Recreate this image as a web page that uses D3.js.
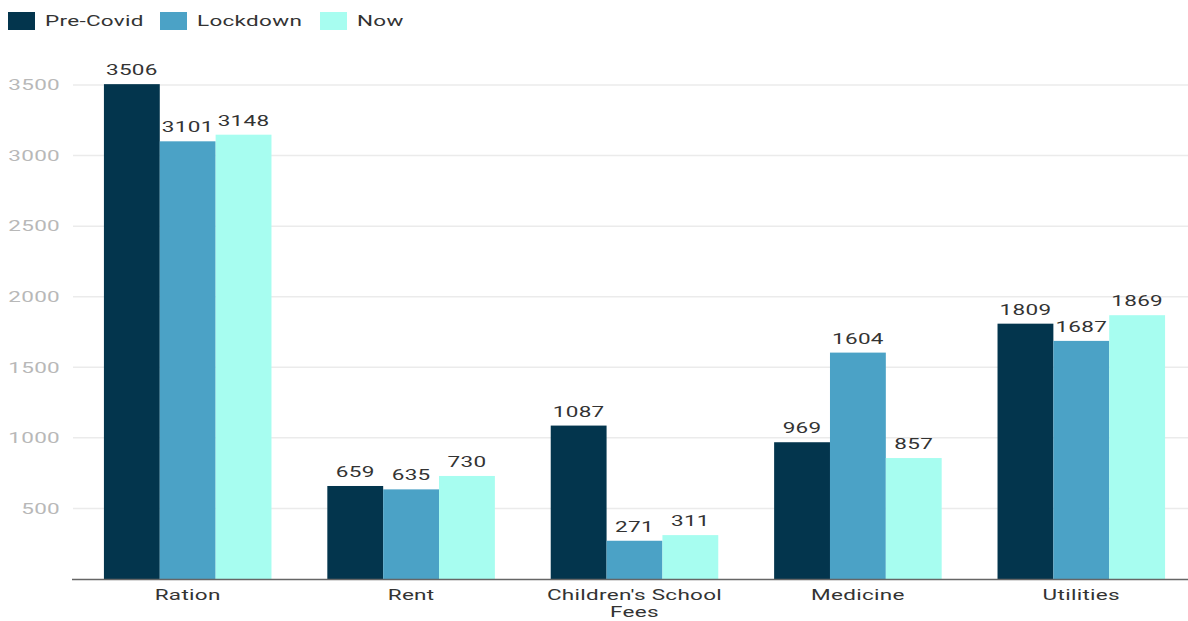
<!DOCTYPE html>
<html>
<head>
<meta charset="utf-8">
<script src="https://cdn.jsdelivr.net/npm/d3@7"></script>
<style>
  body { margin: 0; background: #fff; }
  text { font-family: Roboto, "Noto Sans", sans-serif; letter-spacing: 0.2px; }
</style>
</head>
<body>
<div id="chart"></div>
<script>
const categories = ["Ration", "Rent", "Children's School Fees", "Medicine", "Utilities"];
const seriesNames = ["Pre-Covid", "Lockdown", "Now"];
const preCovid = [3506, 659, 1087, 969, 1809];
const lockdown = [3101, 635, 271, 1604, 1687];
const now = [3148, 730, 311, 857, 1869];
const yTicks = [500, 1000, 1500, 2000, 2500, 3000, 3500];
const colors = ["#03354d", "#4ba2c6", "#a7fdf0"];

const width = 1188, height = 621;
const stretch = 1.5; // the reference text is drawn wide
const seriesValues = [preCovid, lockdown, now];

const data = categories.map((c, i) => ({
    category: c,
    values: seriesNames.map((s, j) => ({ series: s, value: seriesValues[j][i] }))
}));

const svg = d3.select("#chart")
    .append("svg")
    .attr("width", width)
    .attr("height", height);

// Scales
const x0 = d3.scaleBand()
    .domain(categories)
    .range([76, 1193])
    .paddingInner(0.25)
    .paddingOuter(0.125);

const x1 = d3.scaleBand()
    .domain(seriesNames)
    .range([0, x0.bandwidth()]);

const y = d3.scaleLinear()
    .domain([0, 3500])
    .range([579, 85]);

// Gridlines
svg.append("g")
    .selectAll("line")
    .data(yTicks)
    .enter()
    .append("line")
    .attr("x1", 73)
    .attr("x2", width)
    .attr("y1", d => y(d))
    .attr("y2", d => y(d))
    .attr("stroke", "#ebebeb")
    .attr("stroke-width", 1.5);

// Y axis labels
const yAxis = svg.append("g")
    .attr("transform", "translate(72,0)")
    .call(d3.axisLeft(y).tickValues(yTicks).tickFormat(d3.format("d")).tickSize(0).tickPadding(8));
yAxis.select(".domain").remove();
yAxis.selectAll("text")
    .attr("fill", "#b8b8b8")
    .attr("transform", "scale(" + stretch + ",1)")
    .style("font-size", "15px");

// Bars
const groups = svg.selectAll(".group")
    .data(data)
    .enter()
    .append("g")
    .attr("class", "group")
    .attr("transform", d => "translate(" + x0(d.category) + ",0)");

groups.selectAll("rect")
    .data(d => d.values)
    .enter()
    .append("rect")
    .attr("x", d => x1(d.series))
    .attr("width", x1.bandwidth())
    .attr("y", d => y(d.value))
    .attr("height", d => y(0) - y(d.value))
    .attr("fill", (d, i) => colors[i]);

groups.selectAll(".val")
    .data(d => d.values)
    .enter()
    .append("text")
    .attr("class", "val")
    .attr("transform", d => "translate(" + (x1(d.series) + x1.bandwidth() / 2) + "," + (y(d.value) - 9) + ") scale(" + stretch + ",1)")
    .attr("text-anchor", "middle")
    .attr("fill", "#333")
    .style("font-size", "15px")
    .text(d => d.value);

// X axis
svg.append("line")
    .attr("x1", 72)
    .attr("x2", width)
    .attr("y1", 579.5)
    .attr("y2", 579.5)
    .attr("stroke", "#666")
    .attr("stroke-width", 1.5);

// Category labels (wrapped)
const wrapLines = { "Children's School Fees": ["Children's School", "Fees"] };
categories.forEach(c => {
    const lines = wrapLines[c] || [c];
    const t = svg.append("text")
        .attr("transform", "translate(" + (x0(c) + x0.bandwidth() / 2) + ",600) scale(" + stretch + ",1)")
        .attr("text-anchor", "middle")
        .attr("fill", "#333")
        .style("font-size", "15px");
    lines.forEach((l, i) => {
        t.append("tspan")
            .attr("x", 0)
            .attr("dy", i === 0 ? 0 : 17)
            .text(l);
    });
});

// Legend
const legendX = [8, 160, 320];
const legend = svg.selectAll(".legend")
    .data(seriesNames)
    .enter()
    .append("g")
    .attr("class", "legend")
    .attr("transform", (d, i) => "translate(" + legendX[i] + ",12)");

legend.append("rect")
    .attr("width", 27)
    .attr("height", 18)
    .attr("fill", (d, i) => colors[i]);

legend.append("text")
    .attr("transform", "translate(37,14) scale(" + stretch + ",1)")
    .attr("fill", "#333")
    .style("font-size", "15px")
    .text(d => d);
</script>
</body>
</html>
